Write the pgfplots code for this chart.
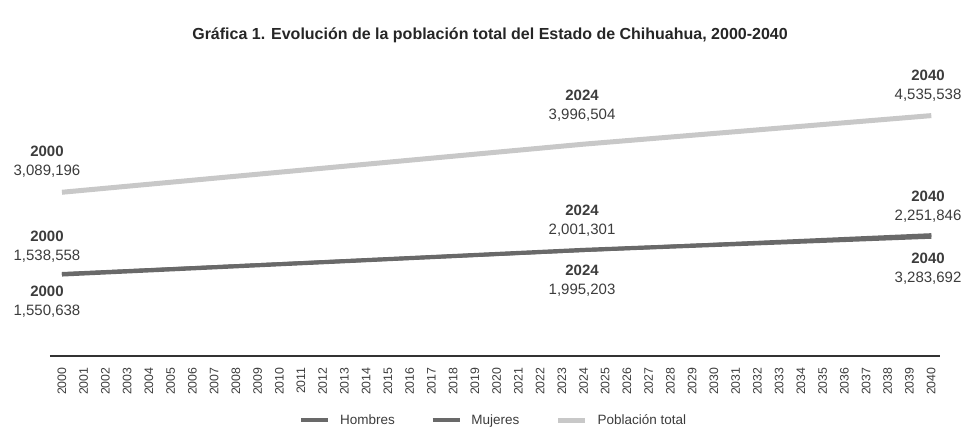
\documentclass[border=0pt]{standalone}
\usepackage{pgfplots}
\pgfplotsset{compat=1.18}
\usepackage{fontspec}
\setmainfont{Liberation Sans}
\definecolor{darkl}{RGB}{105,105,105}
\definecolor{lightl}{RGB}{200,200,200}
\definecolor{txt}{RGB}{60,60,60}
\begin{document}
\begin{tikzpicture}[x=1pt,y=1pt]
\path[use as bounding box] (-50,-77) rectangle (928,356);
\begin{axis}[at={(0,0)}, anchor=south west, scale only axis,
  width=890pt, height=291.5pt,
  xmin=1999.45, xmax=2040.4, ymin=0, ymax=5500000,
  axis x line*=bottom, axis y line=none,
  x axis line style={black!80, line width=1.2pt},
  xtick={2000,...,2040}, major tick length=0pt,
  xticklabel shift=8pt,
  xticklabel style={rotate=90, anchor=east, text=txt,
    font=\fontsize{12.3}{13}\selectfont,
    /pgf/number format/1000 sep={}, /pgf/number format/assume math mode=true},
  ytick={500000,1000000,...,5000000}, yticklabels={},
  ymajorgrids, grid style={densely dotted, black!16, line width=0.9pt},
  clip=false,
  legend columns=3,
  legend style={at={(0.4983,-0.2196)}, anchor=center, draw=none, fill=none,
    font=\fontsize{13.5}{15}\selectfont, text=txt,
    /tikz/every odd column/.append style={column sep=8pt},
    /tikz/every even column/.append style={column sep=34pt}},
  legend image code/.code={\draw[#1] (0pt,0pt) -- (27pt,0pt);},
  title={\textbf{Gráfica 1. Evolución de la población total del Estado de Chihuahua, 2000-2040}},
  title style={at={(0.4944,1)}, anchor=center, yshift=23.5pt, font=\fontsize{16}{18}\selectfont, text=black!85},
]
\addplot[darkl, line width=4.2pt] coordinates {(2000,1538558) (2024,2001301) (2040,2251846)};
\addplot[darkl, line width=3.6pt] coordinates {(2000,1550638) (2024,1995203) (2040,2283692)};
\addplot[lightl, line width=5pt] coordinates {(2000,3089196) (2024,3996504) (2040,4535538)};
\legend{Hombres, Mujeres, Población total}
\tikzset{lbl/.style={align=center, text=txt, font=\fontsize{15}{19}\selectfont}}
\node[lbl] at (axis cs:1999.31,3670000) {\textbf{2000}\\3,089,196};
\node[lbl] at (axis cs:1999.31,2066000) {\textbf{2000}\\1,538,558};
\node[lbl] at (axis cs:1999.31,1028000) {\textbf{2000}\\1,550,638};
\node[lbl] at (axis cs:2023.93,4717000) {\textbf{2024}\\3,996,504};
\node[lbl] at (axis cs:2023.93,2547000) {\textbf{2024}\\2,001,301};
\node[lbl] at (axis cs:2023.93,1425000) {\textbf{2024}\\1,995,203};
\node[lbl] at (axis cs:2039.85,5094000) {\textbf{2040}\\4,535,538};
\node[lbl] at (axis cs:2039.85,2821000) {\textbf{2040}\\2,251,846};
\node[lbl] at (axis cs:2039.85,1642000) {\textbf{2040}\\3,283,692};
\end{axis}
\end{tikzpicture}
\end{document}
